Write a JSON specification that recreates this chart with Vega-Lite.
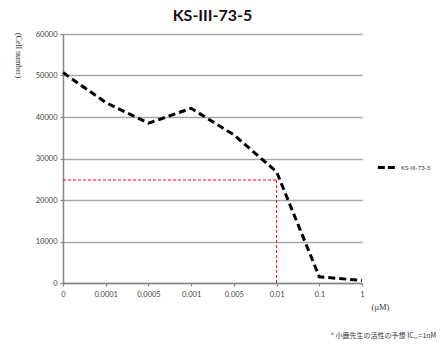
{
  "$schema": "https://vega.github.io/schema/vega-lite/v6.json",
  "width": 299,
  "height": 249,
  "autosize": "none",
  "padding": {"left": 63, "top": 34, "right": 79, "bottom": 65},
  "background": "white",
  "title": {"text": "KS-III-73-5", "font": "Lato", "fontSize": 16, "fontWeight": "bold", "color": "#111111", "anchor": "middle", "baseline": "alphabetic", "offset": 12, "dy": 19},
  "config": {
    "view": {"stroke": null},
    "axis": {"labelFont": "Lato", "labelFontSize": 7.5, "labelColor": "#444444", "domainColor": "#868686", "domainWidth": 1.5, "tickColor": "#868686", "tickWidth": 1.2, "tickSize": 3, "gridColor": "#a6a6a6", "gridWidth": 1.5}
  },
  "datasets": {
    "curve": [
      {"dose": "0", "cells": 50700, "series": "KS-III-73-5"},
      {"dose": "0.0001", "cells": 43500, "series": "KS-III-73-5"},
      {"dose": "0.0005", "cells": 38500, "series": "KS-III-73-5"},
      {"dose": "0.001", "cells": 42100, "series": "KS-III-73-5"},
      {"dose": "0.005", "cells": 35700, "series": "KS-III-73-5"},
      {"dose": "0.01", "cells": 26800, "series": "KS-III-73-5"},
      {"dose": "0.1", "cells": 1500, "series": "KS-III-73-5"},
      {"dose": "1", "cells": 600, "series": "KS-III-73-5"}
    ],
    "guides": [
      {"x1": "0", "x2": "0.01", "y1": 24800, "y2": 24800},
      {"x1": "0.01", "x2": "0.01", "y1": 0, "y2": 24800}
    ]
  },
  "layer": [
    {
      "data": {"name": "curve"},
      "mark": {"type": "line", "strokeWidth": 3, "strokeDash": [7, 4], "strokeCap": "butt"},
      "encoding": {
        "x": {"field": "dose", "type": "ordinal", "sort": null,
              "scale": {"type": "point", "padding": 0, "domain": ["0", "0.0001", "0.0005", "0.001", "0.005", "0.01", "0.1", "1"]},
              "axis": {"orient": "bottom", "labelAngle": 0, "labelPadding": 4, "title": "(μM)", "titleFont": "Liberation Serif", "titleFontSize": 8.5, "titleFontWeight": "normal", "titleColor": "#333333", "titleX": 317, "titleY": 23, "titleAlign": "center", "titleBaseline": "middle"}},
        "y": {"field": "cells", "type": "quantitative",
              "scale": {"domain": [0, 60000], "nice": false},
              "axis": {"values": [0, 10000, 20000, 30000, 40000, 50000, 60000], "format": "d", "labelPadding": 3, "title": "(Cell number)", "titleFont": "Liberation Serif", "titleFontSize": 8, "titleFontWeight": "normal", "titleColor": "#333333", "titleAngle": 90, "titleX": -46, "titleY": 21, "titleAlign": "center", "titleBaseline": "middle"}},
        "color": {"field": "series", "type": "nominal",
                  "scale": {"range": ["#000000"]},
                  "legend": {"title": null, "orient": "none", "legendX": 313, "legendY": 123, "symbolType": "stroke", "symbolStrokeWidth": 3, "symbolDash": [7, 3], "symbolSize": 300, "labelFont": "Lato", "labelFontSize": 6, "labelColor": "#333333"}}
      }
    },
    {
      "data": {"name": "guides"},
      "mark": {"type": "rule", "color": "#ff0000", "strokeWidth": 1, "strokeDash": [3, 2]},
      "encoding": {
        "x": {"field": "x1", "type": "ordinal", "axis": {"orient": "bottom", "domain": false, "labels": false, "ticks": false, "grid": false, "title": "* 小鹿先生の活性の予想  IC₅₀=1nM", "titleFont": "Noto Sans CJK JP", "titleFontSize": 7, "titleFontWeight": "normal", "titleColor": "#333333", "titleX": 320, "titleY": 52, "titleAlign": "center", "titleBaseline": "middle"}},
        "x2": {"field": "x2"},
        "y": {"field": "y1", "type": "quantitative"},
        "y2": {"field": "y2"}
      }
    }
  ],
  "resolve": {"axis": {"x": "independent"}}
}
